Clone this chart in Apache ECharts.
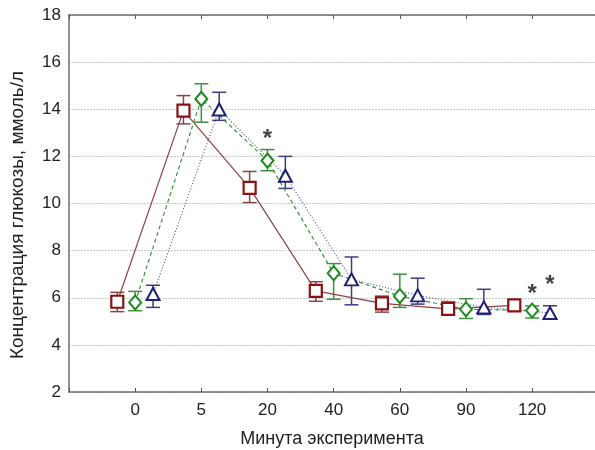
<!DOCTYPE html>
<html>
<head>
<meta charset="utf-8">
<script src="https://cdn.jsdelivr.net/npm/echarts@6/dist/echarts.min.js"></script>
<style>html,body{margin:0;padding:0;background:#fff;}#c{width:595px;height:450px;}</style>
</head>
<body>
<div id="c"></div>
<script>
const timeLabels = ['0', '5', '20', '40', '60', '90', '120'];

const sqMean = [5.83, 13.94, 10.66, 6.29, 5.76, 5.53, 5.68];
const sqLow  = [5.41, 13.38, 10.04, 5.85, 5.39, 5.30, 5.56];
const sqHigh = [6.23, 14.58, 11.36, 6.68, 6.07, 5.82, 5.80];

const diMean = [5.80, 14.44, 11.82, 7.04, 6.07, 5.51, 5.46];
const diLow  = [5.45, 13.45, 11.39, 5.94, 5.59, 5.12, 5.14];
const diHigh = [6.27, 15.08, 12.29, 7.45, 7.00, 5.96, 5.65];

const trMean = [6.16, 13.99, 11.18, 6.78, 6.10, 5.59, 5.35];
const trLow  = [5.59, 13.53, 10.64, 5.70, 5.73, 5.29, 5.15];
const trHigh = [6.53, 14.72, 12.00, 7.73, 6.83, 6.36, 5.66];

// significance marks: [time index, series (0 sq,1 di,2 tr), y value]
const starIdx = [2, 6, 6];
const starSeries = [1, 1, 2];
const starY = [12.97, 6.40, 6.78];

const OFF = 0.27;
const offsets = [-OFF, 0, OFF];

function pts(mean, s) { return mean.map((v, i) => [i + offsets[s], v]); }
function errs(low, high, s) { return low.map((v, i) => [i + offsets[s], v, high[i]]); }

function errSeries(data, color) {
  return {
    type: 'custom',
    z: 2,
    data: data,
    renderItem: function (params, api) {
      const x = api.value(0);
      const lo = api.coord([x, api.value(1)]);
      const hi = api.coord([x, api.value(2)]);
      const w = 7;
      const st = { stroke: color, lineWidth: 1.5 };
      return {
        type: 'group',
        children: [
          { type: 'line', shape: { x1: lo[0], y1: lo[1], x2: hi[0], y2: hi[1] }, style: st },
          { type: 'line', shape: { x1: lo[0] - w, y1: lo[1], x2: lo[0] + w, y2: lo[1] }, style: st },
          { type: 'line', shape: { x1: hi[0] - w, y1: hi[1], x2: hi[0] + w, y2: hi[1] }, style: st }
        ]
      };
    }
  };
}

const chart = echarts.init(document.getElementById('c'));
const axisLineStyle = { color: '#6e6e6e', width: 1.5 };
const xCommon = {
  type: 'value', min: -1, max: 6.95, interval: 1,
  splitLine: { show: false },
  axisLine: { show: true, onZero: false, lineStyle: axisLineStyle },
  axisTick: { show: true, inside: true, length: 4, lineStyle: { color: '#555' } }
};

const option = {
  animation: false,
  backgroundColor: '#ffffff',
  grid: { left: 69, right: 0, top: 15, bottom: 58, containLabel: false, outerBoundsMode: 'none' },
  xAxis: [
    Object.assign({}, xCommon, {
      position: 'bottom',
      name: 'Минута эксперимента',
      nameLocation: 'middle',
      nameGap: 38,
      nameTextStyle: { fontFamily: 'Liberation Sans', fontSize: 18, color: '#222' },
      axisLabel: {
        fontFamily: 'Liberation Sans', fontSize: 17, color: '#222', margin: 10,
        formatter: function (v) { return (Number.isInteger(v) && v >= 0 && v < timeLabels.length) ? timeLabels[v] : ''; }
      }
    }),
    Object.assign({}, xCommon, {
      position: 'top',
      axisLabel: { show: false }
    })
  ],
  yAxis: {
    type: 'value', min: 2, max: 18, interval: 2,
    axisLine: { show: true, onZero: false, lineStyle: axisLineStyle },
    axisTick: { show: false },
    axisLabel: { fontFamily: 'Liberation Sans', fontSize: 17, color: '#222', margin: 8 },
    splitLine: { show: true, lineStyle: { color: '#c8c8c8', type: [2, 1], width: 1 } }
  },
  graphic: [{
    type: 'text',
    x: 18, y: 215,
    rotation: Math.PI / 2,
    style: {
      text: 'Концентрация глюкозы, ммоль/л',
      fontFamily: 'Liberation Sans', fontSize: 19, fill: '#222',
      align: 'center', verticalAlign: 'middle'
    }
  }],
  series: [
    errSeries(errs(sqLow, sqHigh, 0), '#8a4646'),
    errSeries(errs(diLow, diHigh, 1), '#3f8f3f'),
    errSeries(errs(trLow, trHigh, 2), '#3c3c80'),
    {
      type: 'line', z: 3, data: pts(sqMean, 0),
      symbol: 'rect', symbolSize: 12,
      itemStyle: { color: '#ffffff', borderColor: '#8b1212', borderWidth: 2.2 },
      lineStyle: { color: '#8b4444', width: 1.2, type: 'solid' }
    },
    {
      type: 'line', z: 3, data: pts(diMean, 1),
      symbol: 'diamond', symbolSize: [12, 14],
      itemStyle: { color: '#ffffff', borderColor: '#1f8a1f', borderWidth: 2 },
      lineStyle: { color: '#3f8f3f', width: 1.2, type: [4, 3] }
    },
    {
      type: 'line', z: 3, data: pts(trMean, 2),
      symbol: 'triangle', symbolSize: [13, 12],
      itemStyle: { color: '#ffffff', borderColor: '#1c2276', borderWidth: 2 },
      lineStyle: { color: '#5a5a78', width: 1.2, type: [1, 2] }
    },
    {
      type: 'scatter', z: 4, symbolSize: 1, silent: true,
      itemStyle: { color: 'rgba(0,0,0,0)' },
      data: starIdx.map((t, k) => [t + offsets[starSeries[k]], starY[k]]),
      label: {
        show: true, position: 'inside', formatter: '*',
        fontFamily: 'Liberation Sans', fontSize: 24, fontWeight: 'bold', color: '#111',
        offset: [0, 6]
      }
    }
  ]
};
chart.setOption(option);
</script>
</body>
</html>
